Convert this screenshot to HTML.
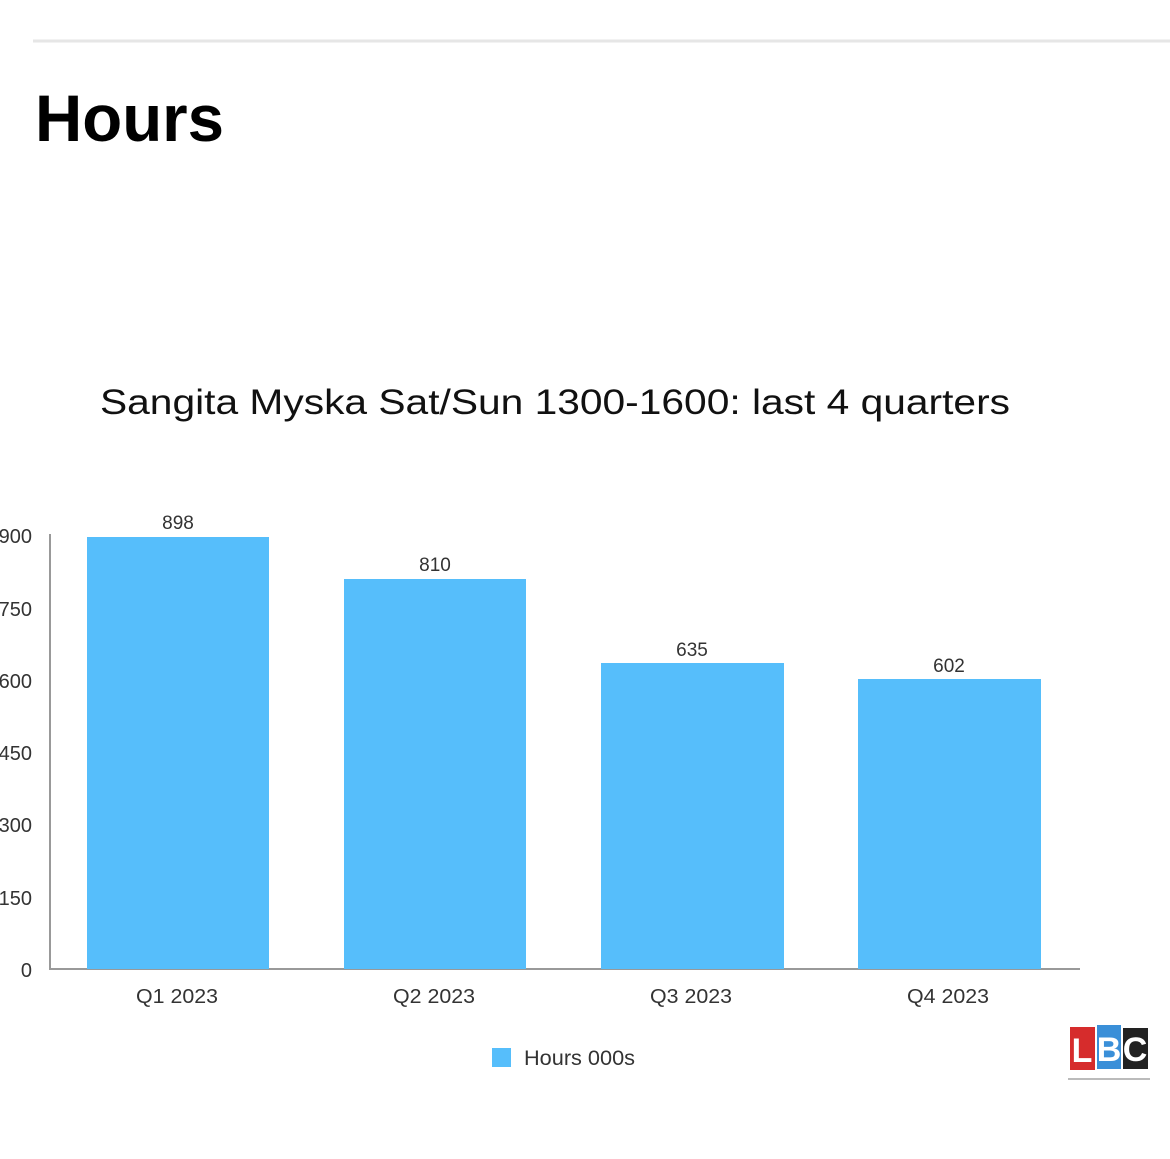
<!DOCTYPE html>
<html><head><meta charset="utf-8"><style>
html,body{margin:0;padding:0;background:#fff;}
svg{display:block;}
text{font-family:"Liberation Sans",Arial,sans-serif;}
</style></head><body>
<svg width="1170" height="1159" viewBox="0 0 1170 1159" xmlns="http://www.w3.org/2000/svg">
<rect width="1170" height="1159" fill="#fff"/>
<line x1="33" y1="41" x2="1170" y2="41" stroke="#e6e6e6" stroke-width="3"/>
<text x="35" y="141" font-size="66" font-weight="bold" fill="#000" textLength="189" lengthAdjust="spacingAndGlyphs">Hours</text>
<text x="100" y="414" font-size="35" fill="#111" textLength="910" lengthAdjust="spacingAndGlyphs">Sangita Myska Sat/Sun 1300-1600: last 4 quarters</text>
<g font-size="20" fill="#333" text-anchor="end">
<text x="32" y="543">900</text>
<text x="32" y="616">750</text>
<text x="32" y="688">600</text>
<text x="32" y="760">450</text>
<text x="32" y="832">300</text>
<text x="32" y="905">150</text>
<text x="32" y="977">0</text>
</g>
<line x1="50" y1="534" x2="50" y2="970" stroke="#999" stroke-width="2"/>
<line x1="49" y1="969" x2="1080" y2="969" stroke="#999" stroke-width="2"/>
<g fill="#56BEFB">
<rect x="87" y="537" width="182" height="432"/>
<rect x="344" y="579" width="182" height="390"/>
<rect x="601" y="663" width="183" height="306"/>
<rect x="858" y="679" width="183" height="290"/>
</g>
<g font-size="19" fill="#333" text-anchor="middle">
<text x="178" y="529">898</text>
<text x="435" y="571">810</text>
<text x="692" y="656">635</text>
<text x="949" y="672">602</text>
</g>
<g font-size="20" fill="#333" text-anchor="middle">
<text x="177" y="1003" textLength="82" lengthAdjust="spacingAndGlyphs">Q1 2023</text>
<text x="434" y="1003" textLength="82" lengthAdjust="spacingAndGlyphs">Q2 2023</text>
<text x="691" y="1003" textLength="82" lengthAdjust="spacingAndGlyphs">Q3 2023</text>
<text x="948" y="1003" textLength="82" lengthAdjust="spacingAndGlyphs">Q4 2023</text>
</g>
<rect x="492" y="1048" width="19" height="19" fill="#56BEFB"/>
<text x="524" y="1065" font-size="21" fill="#333" textLength="111" lengthAdjust="spacingAndGlyphs">Hours 000s</text>
<rect x="1070" y="1027" width="25" height="43" fill="#d62c2c"/>
<rect x="1097" y="1025" width="24" height="44" fill="#3a8fd8"/>
<rect x="1123" y="1028" width="25" height="41" fill="#222"/>
<g font-size="34" font-weight="bold" fill="#fff" text-anchor="middle">
<text x="1082" y="1062">L</text>
<text x="1109" y="1061">B</text>
<text x="1135" y="1061">C</text>
</g>
<rect x="1068" y="1078" width="82" height="2" fill="#bbb"/>
</svg>
</body></html>
